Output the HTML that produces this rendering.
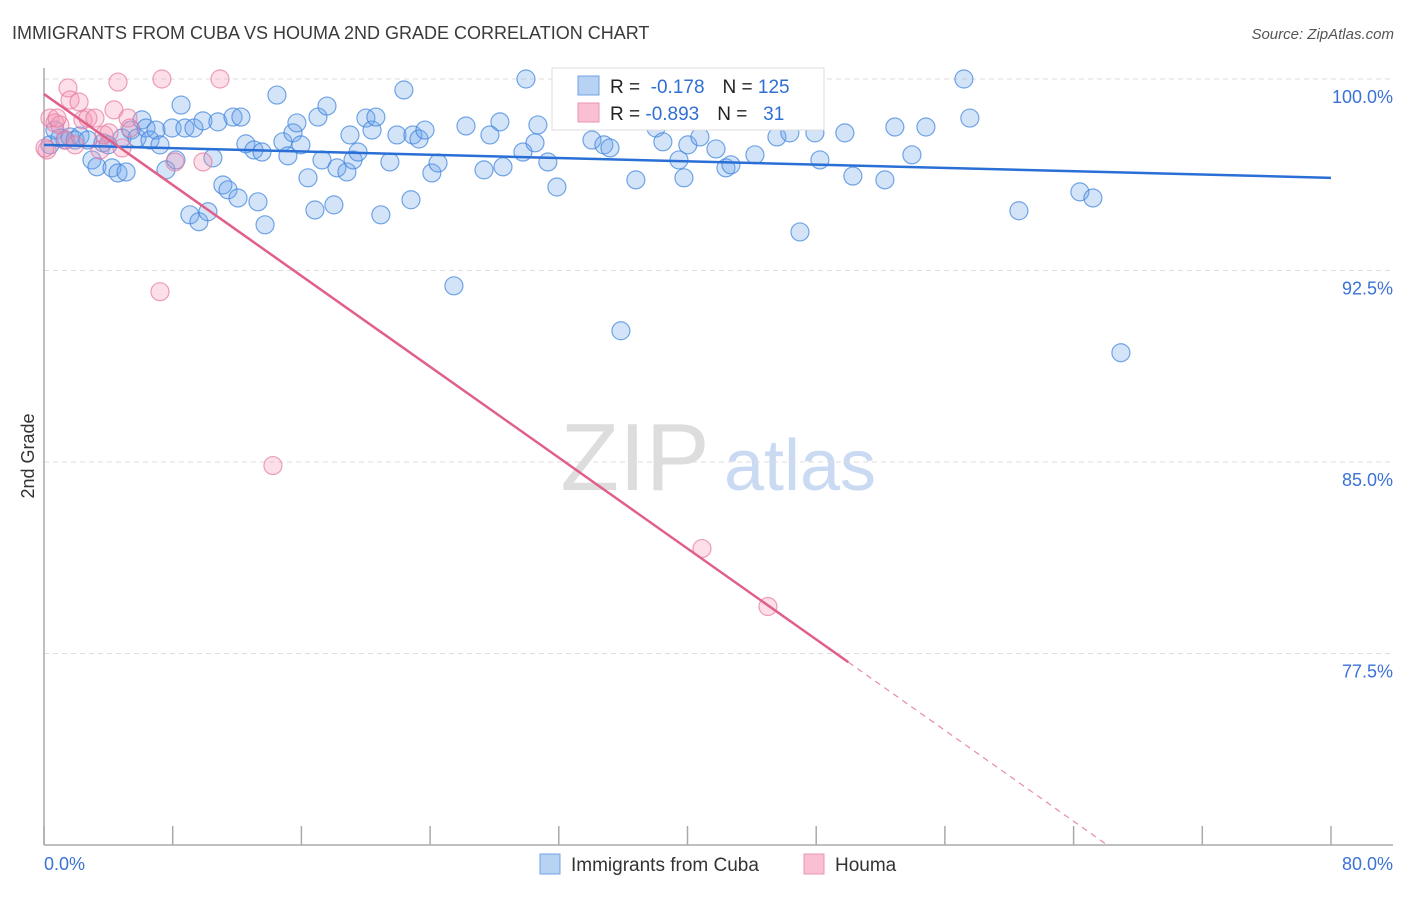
<!DOCTYPE html>
<html><head><meta charset="utf-8">
<style>
body{margin:0;background:#fff;font-family:"Liberation Sans",sans-serif;}
svg text{font-family:"Liberation Sans",sans-serif;}
</style></head>
<body>
<svg id="chart" width="1406" height="892" viewBox="0 0 1406 892" xmlns="http://www.w3.org/2000/svg">
<text x="12" y="39" font-size="18" fill="#3a3a3a">IMMIGRANTS FROM CUBA VS HOUMA 2ND GRADE CORRELATION CHART</text>
<text x="1394" y="39" font-size="15" font-style="italic" fill="#555" text-anchor="end">Source: ZipAtlas.com</text>
<text transform="translate(34,456) rotate(-90)" font-size="18" fill="#333" text-anchor="middle">2nd Grade</text>
<g>
<text x="635" y="490" font-size="96" fill="#ddd" font-family="Liberation Serif" text-anchor="middle">ZIP</text>
<text x="800" y="490" font-size="72" fill="#c9daf2" text-anchor="middle">atlas</text>
</g>
<g id="grid"></g>
<g id="axes"></g>
<g id="pts"></g>
<g id="lines"></g>
<g>
<rect x="552" y="68" width="272" height="62" fill="#fff" stroke="#ddd"/>
<rect x="578" y="76" width="21" height="19" fill="#b8d2f4" stroke="#6ea3e6"/>
<rect x="578" y="103" width="21" height="19" fill="#f8c0d2" stroke="#ec94b2"/>
<text x="610" y="93" font-size="19" fill="#222">R = <tspan fill="#2f6fd3">&#160;-0.178</tspan><tspan dx="18">N = </tspan><tspan fill="#2f6fd3">125</tspan></text>
<text x="610" y="120" font-size="19" fill="#222">R = <tspan fill="#2f6fd3">-0.893</tspan><tspan dx="18">N = </tspan><tspan fill="#2f6fd3">&#160;&#160;31</tspan></text>
</g>
<g>
<rect x="540" y="854" width="20" height="20" fill="#b8d2f4" stroke="#6ea3e6"/>
<text x="571" y="871" font-size="19" fill="#333">Immigrants from Cuba</text>
<rect x="804" y="854" width="20" height="20" fill="#f8c0d2" stroke="#ec94b2"/>
<text x="835" y="871" font-size="19" fill="#333">Houma</text>
</g>
</svg>
<script>
const cubaX=[0.37,0.68,0.99,1.31,1.62,1.93,2.24,2.73,2.98,3.29,3.67,3.98,4.23,4.60,5.10,4.85,5.41,5.78,6.09,6.34,6.59,6.96,7.21,7.58,7.96,8.20,8.52,8.76,9.07,9.32,9.63,9.88,10.19,10.50,10.81,11.12,11.44,11.75,12.06,12.24,12.55,13.05,13.30,13.55,13.74,14.48,14.85,15.16,15.48,15.72,15.97,16.41,16.84,17.03,17.28,17.59,18.02,18.21,18.83,19.02,19.21,19.52,20.01,20.39,20.63,20.94,21.50,21.94,22.37,22.81,22.93,23.31,23.68,24.11,24.49,25.48,26.23,27.35,27.72,28.34,28.53,29.77,29.96,30.52,30.70,31.32,31.88,33.31,34.06,34.80,35.18,35.86,36.42,36.79,38.04,38.47,39.47,39.78,40.02,40.77,41.77,42.39,42.70,44.19,45.56,46.36,46.99,47.92,48.23,49.78,50.28,52.27,52.89,53.95,54.82,57.18,57.55,60.60,64.39,65.20,66.94];
const cubaY=[97.42,98.00,97.69,97.61,97.73,97.61,97.77,97.61,96.83,96.56,97.50,97.42,96.52,96.32,96.36,97.69,98.00,97.69,98.40,98.08,97.61,98.00,97.42,96.44,98.08,96.83,98.98,98.08,94.68,98.08,94.41,98.36,94.80,96.91,98.32,95.85,95.66,98.51,95.34,98.51,97.46,97.22,95.19,97.14,94.29,99.37,97.54,96.99,97.89,98.28,97.42,96.13,94.87,98.51,96.83,98.94,95.07,96.52,96.36,97.81,96.83,97.14,98.47,98.00,98.51,94.68,96.75,97.81,99.57,95.27,97.81,97.65,98.00,96.32,96.71,91.90,98.16,96.44,97.81,98.32,96.56,97.14,100.00,97.50,98.20,96.75,95.77,98.87,97.61,97.42,97.30,90.14,98.79,96.05,98.08,97.54,96.83,96.13,97.42,97.73,97.26,96.52,96.64,97.03,97.73,97.89,94.01,97.89,96.83,97.89,96.20,96.05,98.12,97.03,98.12,100.00,98.47,94.84,95.58,95.34,89.28];
const houmaX=[0.19,0.37,0.68,0.99,1.31,1.49,1.62,1.93,2.18,2.42,2.73,3.17,3.48,3.73,4.04,4.35,4.60,4.85,5.22,5.34,7.33,8.14,9.88,10.94,7.21,14.23,33.69,40.90,45.00,0.06,0.81];
const houmaY=[97.22,98.47,98.28,98.20,97.61,99.65,99.18,97.42,99.10,98.40,98.47,98.47,97.22,97.81,97.89,98.79,99.88,97.30,98.47,98.08,100.00,96.75,96.75,100.00,91.67,84.86,98.87,81.61,79.34,97.30,98.47];
const yTicks=[100,92.5,85,77.5];
const yTickLabels=["100.0%","92.5%","85.0%","77.5%"];
const xTicks=[0,8,16,24,32,40,48,56,64,72,80];
const cubaTrend=[97.42,96.13];
const houmaTrend=[99.41,-0.445];
const NS="http://www.w3.org/2000/svg";
const X=v=>44+v*(1287/80);
const Y=v=>79+(100-v)*(766/30);
function mk(tag,attrs,parent){const e=document.createElementNS(NS,tag);for(const k in attrs)e.setAttribute(k,attrs[k]);document.getElementById(parent).appendChild(e);return e;}
yTicks.forEach((t,i)=>{
 const l=mk('line',{x1:44,x2:1393,y1:Y(t),y2:Y(t),stroke:'#ddd','stroke-dasharray':'5,4'},'grid');
 
 
 const tx=mk('text',{x:1393,y:Y(t)+24,'font-size':18,fill:'#3b72d6','text-anchor':'end'},'grid');
 tx.textContent=yTickLabels[i];
 
 
});
const ax=mk('line',{x1:44,x2:1393,y1:845,y2:845,stroke:'#aaa','stroke-width':1.5},'axes');


const ay=mk('line',{x1:44,x2:44,y1:68,y2:845,stroke:'#aaa','stroke-width':1.5},'axes');


xTicks.forEach(t=>{
 const l=mk('line',{x1:X(t),x2:X(t),y1:826,y2:845,stroke:'#aaa','stroke-width':1.5},'axes');
 
 
});
const xl0=mk('text',{x:44,y:870,'font-size':18,fill:'#3b72d6'},'axes');
xl0.textContent=xTicks[0].toFixed(1)+'%';


const xl1=mk('text',{x:1393,y:870,'font-size':18,fill:'#3b72d6','text-anchor':'end'},'axes');
xl1.textContent=xTicks[xTicks.length-1].toFixed(1)+'%';


cubaX.forEach((v,i)=>{
 const c=mk('circle',{cx:X(v),cy:Y(cubaY[i]),r:9,fill:'rgba(110,165,235,0.3)',stroke:'rgba(60,130,220,0.7)','stroke-width':1.2},'pts');
 
 
});
houmaX.forEach((v,i)=>{
 const c=mk('circle',{cx:X(v),cy:Y(houmaY[i]),r:9,fill:'rgba(245,150,180,0.3)',stroke:'rgba(230,120,160,0.7)','stroke-width':1.2},'pts');
 
 
});
const bl=mk('line',{x1:X(0),y1:Y(cubaTrend[0]),x2:X(80),y2:Y(cubaTrend[1]),stroke:'#2a6fd6','stroke-width':2.5},'lines');


const hEnd=50, hZero=(houmaTrend[0]-70)/-houmaTrend[1];
const pl=mk('line',{x1:X(0),y1:Y(houmaTrend[0]),x2:X(hEnd),y2:Y(houmaTrend[0]+houmaTrend[1]*hEnd),stroke:'#e0608a','stroke-width':2.5},'lines');


const pd=mk('line',{x1:X(hEnd),y1:Y(houmaTrend[0]+houmaTrend[1]*hEnd),x2:X(hZero),y2:Y(70),stroke:'#e88aa8','stroke-width':1.2,'stroke-dasharray':'6,5'},'lines');


</script>
</body></html>
